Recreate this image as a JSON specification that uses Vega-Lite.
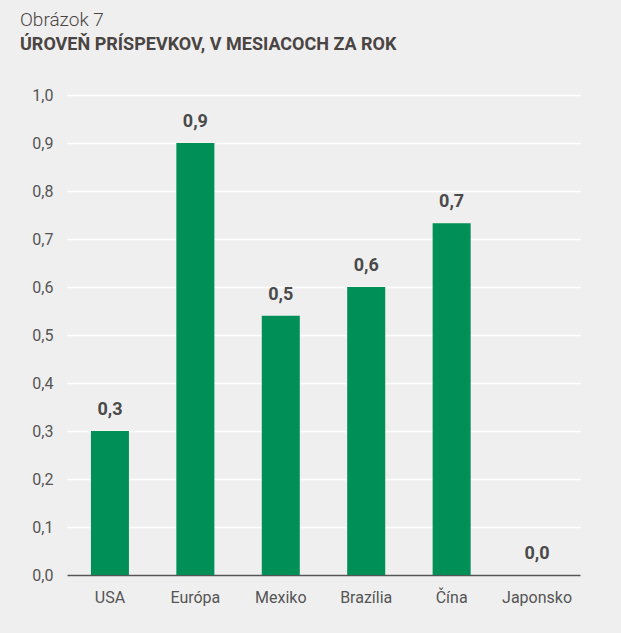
{
  "$schema": "https://vega.github.io/schema/vega-lite/v6.json",
  "width": 621,
  "height": 633,
  "autosize": {"type": "fit", "contains": "padding"},
  "padding": {"left": 20, "top": 11, "right": 41, "bottom": 28},
  "background": "#efefef",
  "title": {
    "text": "Obrázok 7",
    "subtitle": "ÚROVEŇ PRÍSPEVKOV, V MESIACOCH ZA ROK",
    "anchor": "start",
    "frame": "bounds",
    "font": "Roboto",
    "fontSize": 19,
    "fontWeight": 300,
    "color": "#4a4543",
    "subtitleFont": "Roboto",
    "subtitleFontSize": 18,
    "subtitleFontWeight": "bold",
    "subtitleColor": "#4a4543",
    "subtitlePadding": 6,
    "offset": 33
  },
  "data": {
    "values": [
      {"region": "USA", "value": 0.30},
      {"region": "Európa", "value": 0.90},
      {"region": "Mexiko", "value": 0.54},
      {"region": "Brazília", "value": 0.60},
      {"region": "Čína", "value": 0.733},
      {"region": "Japonsko", "value": 0.0}
    ]
  },
  "encoding": {
    "x": {
      "field": "region",
      "type": "nominal",
      "sort": null,
      "title": null,
      "scale": {"paddingInner": 0.555, "paddingOuter": 0.28},
      "axis": {
        "labelAngle": 0,
        "labelFont": "Roboto",
        "labelFontSize": 16,
        "labelColor": "#555555",
        "labelPadding": 14,
        "ticks": false,
        "domainColor": "#555555",
        "domainWidth": 1.5,
        "grid": false
      }
    },
    "y": {
      "field": "value",
      "type": "quantitative",
      "title": null,
      "scale": {"domain": [0, 1]},
      "axis": {
        "values": [0, 0.1, 0.2, 0.3, 0.4, 0.5, 0.6, 0.7, 0.8, 0.9, 1.0],
        "format": ".1f",
        "labelFont": "Roboto",
        "labelFontSize": 16,
        "labelColor": "#555555",
        "labelPadding": 14,
        "ticks": false,
        "domain": false,
        "gridColor": "#ffffff",
        "gridWidth": 1.5,
        "gridOpacity": 1,
        "minExtent": 47
      }
    }
  },
  "layer": [
    {"mark": {"type": "bar", "color": "#008f57"}},
    {
      "mark": {
        "type": "text",
        "font": "Roboto",
        "fontSize": 18,
        "fontWeight": "bold",
        "color": "#4a4a4a",
        "baseline": "alphabetic",
        "dy": -16
      },
      "encoding": {
        "text": {"field": "value", "type": "quantitative", "format": ".1f"}
      }
    }
  ],
  "config": {
    "view": {"stroke": null},
    "locale": {
      "number": {
        "decimal": ",",
        "thousands": " ",
        "grouping": [3],
        "currency": ["", " €"]
      }
    }
  }
}
